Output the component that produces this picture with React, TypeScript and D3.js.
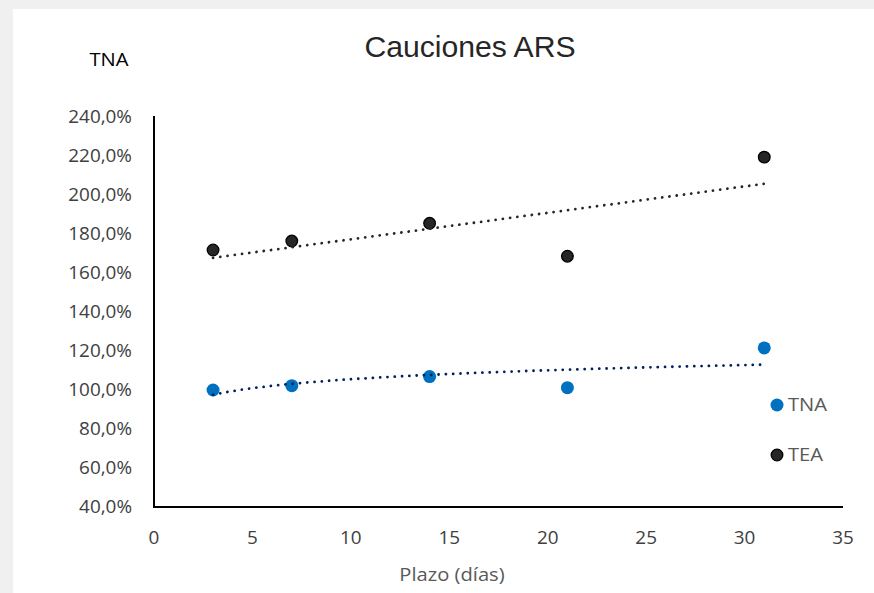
import React from "react";
import * as d3 from "d3";

// plazo en días
const plazos = [3, 7, 14, 21, 31];
// tasas en %
const tna = [100.0, 102.2, 106.9, 101.2, 121.6];
const tea = [171.8, 176.4, 185.5, 168.6, 219.4];

const xTicks = [0, 5, 10, 15, 20, 25, 30, 35];
const yTicks = [40, 60, 80, 100, 120, 140, 160, 180, 200, 220, 240];

const W = 874;
const H = 593;

const x = d3.scaleLinear().domain([0, 35]).range([154, 843]);
const y = d3.scaleLinear().domain([40, 240]).range([507, 117]);

const fmt = (v: number) => v.toFixed(1).replace(".", ",") + "%";

// regresión lineal (tendencia TEA)
function linearFit(xs: number[], ys: number[]) {
  const mx = d3.mean(xs)!;
  const my = d3.mean(ys)!;
  let sxy = 0, sxx = 0;
  xs.forEach((v, i) => {
    sxy += (v - mx) * (ys[i] - my);
    sxx += (v - mx) * (v - mx);
  });
  const b = sxy / sxx;
  return (v: number) => my + b * (v - mx);
}

// tendencia logarítmica (TNA)
function logFit(xs: number[], ys: number[]) {
  const f = linearFit(xs.map(Math.log), ys);
  return (v: number) => f(Math.log(v));
}

const teaFit = linearFit(plazos, tea);
const tnaFit = logFit(plazos, tna);

const x0 = d3.min(plazos)!;
const x1 = d3.max(plazos)!;
const samples = d3.range(0, 41).map((i) => x0 + ((x1 - x0) * i) / 40);

const line = d3
  .line<number[]>()
  .x((d) => x(d[0]))
  .y((d) => y(d[1]));

const teaPath = line(samples.map((s) => [s, teaFit(s)]))!;
const tnaPath = line(samples.map((s) => [s, tnaFit(s)]))!;

const tickFont = "'Open Sans', 'Noto Sans', sans-serif";

// texto un poco ensanchado, como en el original
function T(props: {
  x: number;
  y: number;
  sx?: number;
  anchor?: string;
  size: number;
  fill: string;
  font?: string;
  children: React.ReactNode;
}) {
  const sx = props.sx ?? 1.1;
  return (
    <text
      transform={`translate(${props.x},${props.y}) scale(${sx},1)`}
      textAnchor={props.anchor ?? "start"}
      fontFamily={props.font ?? tickFont}
      fontSize={props.size}
      fill={props.fill}
    >
      {props.children}
    </text>
  );
}

export default function App() {
  return (
    <svg
      width={W}
      height={H}
      style={{ position: "absolute", left: 0, top: 0 }}
    >
      <rect width={W} height={H} fill="#f0f0f0" />
      <rect x={13} y={9} width={W - 13} height={H - 9} fill="#ffffff" />

      <T x={470} y={57} anchor="middle" size={29} sx={1.04} fill="#262626"
        font="'Liberation Sans', Arial, sans-serif">
        Cauciones ARS
      </T>

      <T x={109} y={66} anchor="middle" size={18} sx={1.12} fill="#000000">
        TNA
      </T>

      {/* ticks eje y */}
      {yTicks.map((t) => (
        <T key={"y" + t} x={132} y={y(t) + 6} anchor="end" size={17.5} sx={1.08} fill="#404040">
          {fmt(t)}
        </T>
      ))}

      {/* ticks eje x */}
      {xTicks.map((t) => (
        <T key={"x" + t} x={x(t)} y={544} anchor="middle" size={17.5} sx={1.08} fill="#404040">
          {t}
        </T>
      ))}

      <T x={452} y={581} anchor="middle" size={18} sx={1.12} fill="#595959">
        Plazo (días)
      </T>

      {/* ejes */}
      <line x1={x(0)} x2={x(0)} y1={y(240) - 1} y2={y(40) + 1} stroke="#000" strokeWidth={2} />
      <line x1={x(0)} x2={x(35)} y1={y(40)} y2={y(40)} stroke="#000" strokeWidth={2} />

      {/* puntos TEA */}
      {plazos.map((p, i) => (
        <circle key={"tea" + p} cx={x(p)} cy={y(tea[i])} r={5.8} fill="#262626" stroke="#000" strokeWidth={1.3} />
      ))}

      {/* puntos TNA */}
      {plazos.map((p, i) => (
        <circle key={"tna" + p} cx={x(p)} cy={y(tna[i])} r={6.5} fill="#0070c0" />
      ))}

      {/* tendencias */}
      <path
        d={teaPath}
        fill="none"
        stroke="#262626"
        strokeWidth={2.8}
        strokeLinecap="round"
        strokeDasharray="0.01 7.3"
      />
      <path
        d={tnaPath}
        fill="none"
        stroke="#002060"
        strokeWidth={2.8}
        strokeLinecap="round"
        strokeDasharray="0.01 7.3"
      />

      {/* leyenda */}
      <circle cx={777} cy={405} r={6.5} fill="#0070c0" />
      <T x={788} y={411} size={18} sx={1.12} fill="#595959">
        TNA
      </T>
      <circle cx={777} cy={455} r={5.8} fill="#262626" stroke="#000" strokeWidth={1.3} />
      <T x={788} y={461} size={18} sx={1.12} fill="#595959">
        TEA
      </T>
    </svg>
  );
}
